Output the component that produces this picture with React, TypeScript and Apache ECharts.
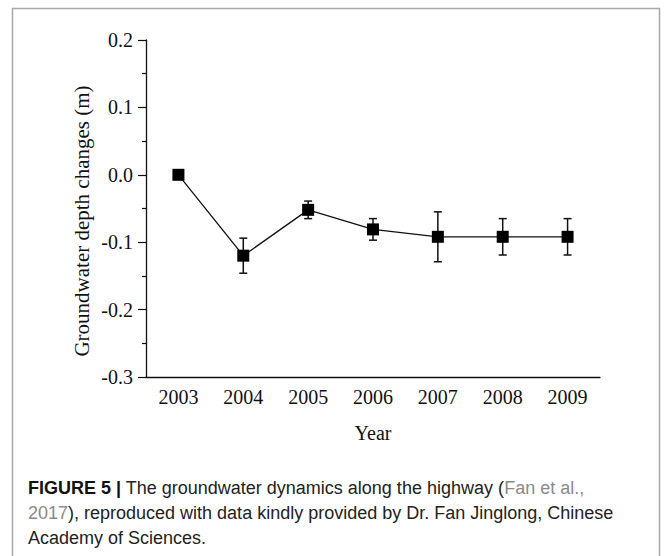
import React, { useEffect, useRef } from "react";
import * as echarts from "echarts";

const years = ["2003", "2004", "2005", "2006", "2007", "2008", "2009"];
const depthChange = [0.0, -0.12, -0.052, -0.081, -0.092, -0.092, -0.092];
const errorHalf = [0.0, 0.026, 0.013, 0.016, 0.037, 0.027, 0.027];
const yTicks = { min: -0.3, max: 0.2, interval: 0.1 };

const yAxisTitle = "Groundwater depth changes (m)";
const xAxisTitle = "Year";
const captionLines = [
  "{b|FIGURE 5 |} The groundwater dynamics along the highway ({g|Fan et al.,}",
  "{g|2017}), reproduced with data kindly provided by Dr. Fan Jinglong, Chinese",
  "Academy of Sciences.",
];

export default function App() {
  const ref = useRef<HTMLDivElement>(null);
  useEffect(() => {
    if (!ref.current) return;
    const chart = echarts.init(ref.current, null, { renderer: "svg" });
    const serif = "'Liberation Serif', 'Times New Roman', serif";
    const sans = "'Liberation Sans', Arial, sans-serif";
    const errData = years.map((_, i) => [
      i,
      depthChange[i] - errorHalf[i],
      depthChange[i] + errorHalf[i],
    ]);
    const rich = {
      b: { fontFamily: sans, fontSize: 18, fontWeight: "bold", fill: "#111" },
      g: { fontFamily: sans, fontSize: 18, fill: "#8a8a8a" },
    };
    chart.setOption({
      animation: false,
      backgroundColor: "#ffffff",
      grid: { left: 146, right: 64, top: 40, bottom: 179 },
      xAxis: [
        {
          type: "category",
          data: years,
          boundaryGap: true,
          axisLine: { onZero: false, lineStyle: { color: "#111", width: 1.3 } },
          axisTick: { alignWithLabel: true, length: 6, lineStyle: { color: "#111", width: 1.2 } },
          axisLabel: { color: "#111", fontFamily: serif, fontSize: 20, margin: 10 },
          name: xAxisTitle,
          nameLocation: "middle",
          nameGap: 46,
          nameTextStyle: { color: "#111", fontFamily: serif, fontSize: 20 },
          splitLine: { show: false },
        },
        {
          type: "category",
          data: years,
          boundaryGap: true,
          position: "bottom",
          axisLine: { show: false, onZero: false },
          axisTick: { alignWithLabel: false, length: 3, lineStyle: { color: "#111", width: 1.2 } },
          axisLabel: { show: false },
          splitLine: { show: false },
        },
      ],
      yAxis: {
        type: "value",
        min: yTicks.min,
        max: yTicks.max,
        interval: yTicks.interval,
        axisLine: { show: true, lineStyle: { color: "#111", width: 1.3 } },
        axisTick: { show: true, length: 8, lineStyle: { color: "#111", width: 1.2 } },
        minorTick: { show: true, splitNumber: 2, length: 4, lineStyle: { color: "#111", width: 1.2 } },
        axisLabel: {
          color: "#111",
          fontFamily: serif,
          fontSize: 20,
          margin: 13,
          formatter: (v: number) => v.toFixed(1),
        },
        splitLine: { show: false },
      },
      series: [
        {
          type: "custom",
          xAxisIndex: 0,
          z: 2,
          data: errData,
          encode: { x: 0, y: [1, 2] },
          renderItem: (params: any, api: any) => {
            const x = api.value(0);
            const top = api.coord([x, api.value(2)]);
            const bot = api.coord([x, api.value(1)]);
            const w = 4;
            const st = { stroke: "#111", lineWidth: 1.5 };
            return {
              type: "group",
              children: [
                { type: "line", shape: { x1: top[0], y1: top[1], x2: bot[0], y2: bot[1] }, style: st },
                { type: "line", shape: { x1: top[0] - w, y1: top[1], x2: top[0] + w, y2: top[1] }, style: st },
                { type: "line", shape: { x1: bot[0] - w, y1: bot[1], x2: bot[0] + w, y2: bot[1] }, style: st },
              ],
            };
          },
        },
        {
          type: "line",
          xAxisIndex: 0,
          z: 3,
          data: depthChange,
          symbol: "rect",
          symbolSize: 12,
          lineStyle: { color: "#111", width: 1.3 },
          itemStyle: { color: "#000" },
        },
      ],
      graphic: [
        {
          type: "rect",
          shape: { x: 12.5, y: 8.5, width: 647, height: 620 },
          style: { fill: "none", stroke: "#a8a8a8", lineWidth: 1.5 },
          silent: true,
        },
        {
          type: "text",
          x: 82,
          y: 221,
          rotation: Math.PI / 2,
          style: {
            text: yAxisTitle,
            fontFamily: serif,
            fontSize: 21,
            fill: "#111",
            textAlign: "center",
            textVerticalAlign: "middle",
          },
        },
        ...captionLines.map((t, i) => ({
          type: "text",
          x: 28,
          y: 488 + i * 25,
          style: {
            text: t,
            rich,
            fontFamily: sans,
            fontSize: 18,
            fill: "#222",
            textAlign: "left",
            textVerticalAlign: "middle",
          },
        })),
      ],
    });
    return () => chart.dispose();
  }, []);
  return (
    <div
      ref={ref}
      style={{ position: "fixed", left: 0, top: 0, width: 664, height: 556 }}
    />
  );
}
